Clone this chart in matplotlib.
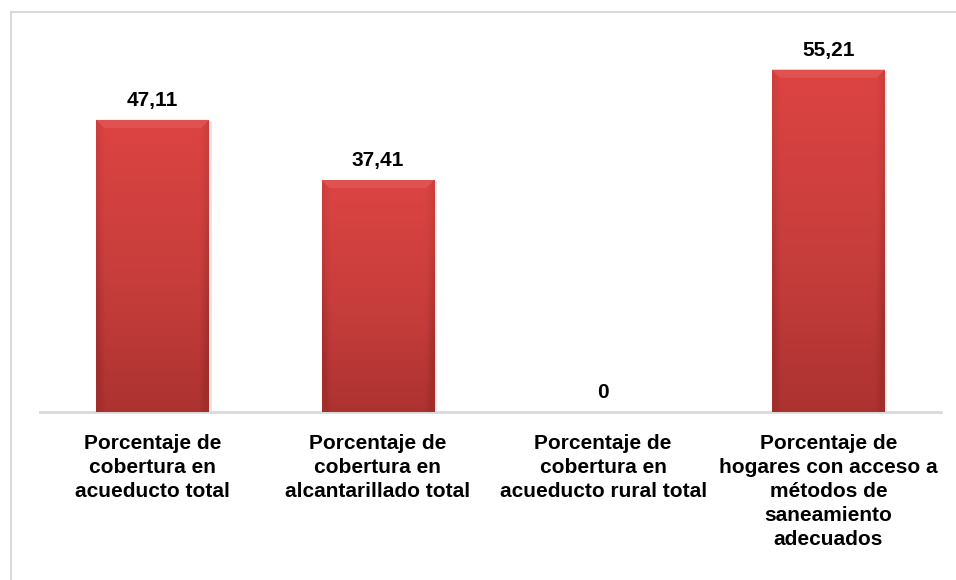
import numpy as np
import matplotlib.pyplot as plt
from matplotlib.patches import Rectangle
from matplotlib.colors import LinearSegmentedColormap

# Datos
categorias = [
    "Porcentaje de\ncobertura en\nacueducto total",
    "Porcentaje de\ncobertura en\nalcantarillado total",
    "Porcentaje de\ncobertura en\nacueducto rural total",
    "Porcentaje de\nhogares con acceso a\nmétodos de\nsaneamiento\nadecuados",
]
valores = [47.11, 37.41, 0, 55.21]
etiquetas = ["47,11", "37,41", "0", "55,21"]

plt.rcParams['font.family'] = ['Liberation Sans', 'DejaVu Sans']

fig = plt.figure(figsize=(9.56, 5.8), dpi=100)
ax = fig.add_axes([40 / 956, 1 - 412 / 580, 901 / 956, 372 / 580])

# Marco exterior gris claro
fig.patches.append(Rectangle((11 / 956, -0.05), 1.0, 1 - 12 / 580 + 0.05,
                             transform=fig.transFigure, fill=False,
                             edgecolor='#d9d9d9', linewidth=1.5))

x = np.arange(len(valores))
barras = ax.bar(x, valores, width=0.5, color='#c53c3a', zorder=2)

# Degradado vertical + bordes más oscuros
cmap = LinearSegmentedColormap.from_list('rojo', ['#a22e2c', '#c53d3b', '#dc4442'])
ny, nx = 100, 60
vert = np.linspace(0, 1, ny)[:, None]
horiz = np.linspace(-1, 1, nx)[None, :]
grad = vert * 0.85 + 0.15 - 0.35 * np.clip(np.abs(horiz) - 0.85, 0, None) / 0.15
for b in barras:
    h = b.get_height()
    if h <= 0:
        continue
    x0, w = b.get_x(), b.get_width()
    im = ax.imshow(grad, cmap=cmap, vmin=0, vmax=1, origin='lower', aspect='auto',
                   extent=[x0, x0 + w, 0, h], zorder=3, interpolation='bilinear')
    im.set_clip_path(b)
    # bisel superior
    ax.fill([x0, x0 + w, x0 + w * 0.93, x0 + w * 0.07],
            [h, h, h - 1.3, h - 1.3], color='#e0524f', zorder=4, lw=0)
    # sombra derecha
    ax.add_patch(Rectangle((x0 + w, 0), 0.012, h * 0.995, color='#d8d8d8',
                           alpha=0.6, zorder=1, lw=0))
    b.set_alpha(0)

for xi, v, t in zip(x, valores, etiquetas):
    ax.text(xi, v + 3.1, t, ha='center', va='center', fontsize=15,
            fontweight='bold', color='black')

ax.set_xlim(-0.5, len(valores) - 0.5)
ax.set_ylim(0, 60)
ax.set_xticks(x)
ax.set_xticklabels(categorias, fontsize=15, fontweight='bold', linespacing=1.33)
ax.tick_params(axis='x', length=0, pad=16)
ax.set_yticks([])
for s in ['top', 'right', 'left']:
    ax.spines[s].set_visible(False)
ax.spines['bottom'].set_color('#d9d9d9')
ax.spines['bottom'].set_linewidth(2)

plt.savefig("out.png", dpi=100)
